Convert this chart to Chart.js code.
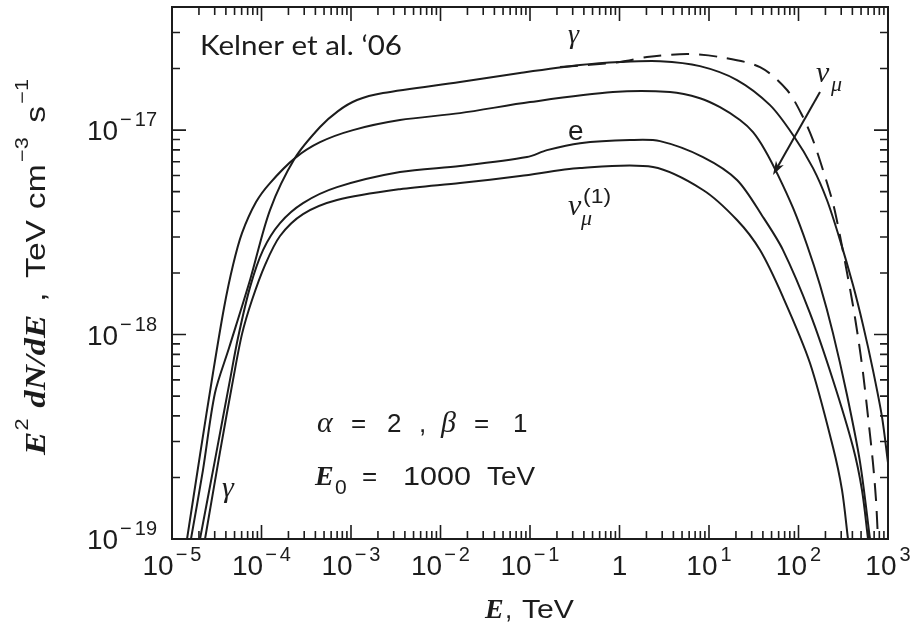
<!DOCTYPE html>
<html>
<head>
<meta charset="utf-8">
<script src="https://cdn.jsdelivr.net/npm/chart.js@4.4.1/dist/chart.umd.min.js"></script>
<style>
  html, body { margin: 0; padding: 0; background: #fff; }
  #wrap { width: 918px; height: 628px; position: relative; }
</style>
</head>
<body>
<div id="wrap"><canvas id="spec"></canvas></div>
<script>
// curves, stored as log10(E / TeV) and log10(E^2 dN/dE)
const gammaLogE = [-4.788, -4.654, -4.520, -4.363, -4.128, -3.905, -3.626, -3.346, -3.145, -2.933, -2.642, -1.782, -1.112, -0.441, 0.006, 0.453, 0.899, 1.313, 1.682, 1.939, 2.162, 2.318, 2.464, 2.609, 2.721, 2.832, 2.933, 3.0];
const gammaLogF = [-19.0, -18.663, -18.286, -18.066, -17.733, -17.391, -17.137, -16.985, -16.907, -16.853, -16.819, -16.765, -16.721, -16.682, -16.667, -16.663, -16.687, -16.755, -16.878, -17.024, -17.186, -17.342, -17.538, -17.758, -17.954, -18.174, -18.403, -18.628];

const nuMuLogE = [-4.832, -4.687, -4.542, -4.419, -4.318, -4.218, -4.061, -3.905, -3.626, -3.346, -2.978, -2.453, -1.782, -1.0, -0.073, 0.564, 0.899, 1.123, 1.346, 1.492, 1.626, 1.771, 1.939, 2.095, 2.240, 2.385, 2.542, 2.687, 2.799];
const nuMuLogF = [-19.0, -18.589, -18.188, -17.870, -17.660, -17.504, -17.352, -17.259, -17.137, -17.059, -17.0, -16.951, -16.917, -16.863, -16.814, -16.814, -16.844, -16.888, -16.951, -17.010, -17.098, -17.220, -17.381, -17.562, -17.758, -17.993, -18.296, -18.623, -19.0];

const elecLogE = [-4.687, -4.520, -4.352, -4.263, -4.128, -3.983, -3.793, -3.536, -3.156, -2.453, -1.782, -1.034, -0.810, -0.441, 0.117, 0.453, 0.933, 1.313, 1.603, 1.827, 2.128, 2.385, 2.609, 2.709, 2.777];
const elecLogF = [-19.0, -18.614, -18.222, -18.017, -17.768, -17.587, -17.455, -17.357, -17.279, -17.205, -17.176, -17.132, -17.098, -17.064, -17.049, -17.054, -17.132, -17.244, -17.425, -17.587, -17.895, -18.222, -18.550, -18.760, -19.0];

const nuMu1LogE = [-4.631, -4.464, -4.318, -4.218, -4.106, -3.961, -3.793, -3.536, -3.156, -2.453, -1.782, -1.112, -0.441, 0.374, 0.933, 1.313, 1.570, 1.827, 2.128, 2.385, 2.486, 2.553];
const nuMu1LogF = [-19.0, -18.575, -18.222, -17.998, -17.831, -17.660, -17.518, -17.411, -17.342, -17.289, -17.259, -17.225, -17.186, -17.181, -17.293, -17.440, -17.587, -17.817, -18.139, -18.550, -18.760, -19.0];

const dashLogE = [-0.665, 0.006, 0.307, 0.754, 1.123, 1.570, 1.872, 2.050, 2.162, 2.274, 2.385, 2.464, 2.598, 2.665, 2.721, 2.777, 2.832, 2.866, 2.888];
const dashLogF = [-16.692, -16.667, -16.643, -16.628, -16.643, -16.692, -16.804, -16.936, -17.049, -17.196, -17.357, -17.518, -17.831, -18.012, -18.188, -18.403, -18.628, -18.809, -19.0];

// axes
const xDecades = [-5, -4, -3, -2, -1, 0, 1, 2, 3];
const yDecades = [-19, -18, -17];
const xMin = 1e-5, xMax = 1e3;
const yMin = 1e-19, yMax = 4e-17;

// label anchors (log10 E, log10 F)
const kelnerAt = [-4.687, -16.633];
const gammaTopAt = [-0.575, -16.575];
const elecAt = [-0.575, -17.049];
const nuMuAt = [2.196, -16.765];
const nuMu1At = [-0.575, -17.416];
const gammaLowAt = [-4.441, -18.795];
const paramsAt = [-3.380, -18.478];
const e0At = [-3.402, -18.737];
const arrowFrom = [2.240, -16.814];
const arrowTo = [1.715, -17.220];

const INK = "#1c1c1c";
const SANS = "'Liberation Sans', Arial, sans-serif";
const SERIF = "'Liberation Serif', serif";

function points(logE, logF) {
  return logE.map((v, i) => ({ x: 10 ** v, y: 10 ** logF[i] }));
}

function curve(logE, logF, dash) {
  return {
    data: points(logE, logF),
    borderColor: INK,
    borderWidth: 2,
    borderDash: dash || [],
    pointRadius: 0,
    fill: false,
    tension: 0.3
  };
}

function put(ctx, text, font, x, y, w) {
  ctx.font = font;
  const nat = ctx.measureText(text).width;
  if (!w) { ctx.fillText(text, x, y); return nat; }
  ctx.save();
  ctx.translate(x, y);
  ctx.scale(w / nat, 1);
  ctx.fillText(text, 0, 0);
  ctx.restore();
  return w;
}

// draws a run of pieces one after the other; returns its width
function run(ctx, parts, x, y, measureOnly) {
  let cx = x;
  parts.forEach(p => {
    ctx.font = p.f;
    cx += p.gap || 0;
    if (!measureOnly) ctx.fillText(p.t, cx, y + (p.dy || 0));
    cx += ctx.measureText(p.t).width;
  });
  return cx - x;
}

function tickLabel(ctx, d, x, y, align) {
  const parts = [];
  if (d === 0) {
    parts.push({ t: "1", f: "28px " + SANS });
  } else {
    parts.push({ t: "10", f: "28px " + SANS });
    if (d < 0) parts.push({ t: "\u2212", f: "20px " + SANS, dy: -14, gap: 2 });
    parts.push({ t: String(Math.abs(d)), f: "20px " + SANS, dy: -14, gap: 3 });
  }
  const total = run(ctx, parts, 0, 0, true);
  run(ctx, parts, align === "center" ? x - total / 2 : x - total, y);
}

const decorations = {
  id: "decorations",
  afterDraw(chart) {
    const { ctx, chartArea: a, scales } = chart;
    const px = lg => scales.x.getPixelForValue(10 ** lg);
    const py = lg => scales.y.getPixelForValue(10 ** lg);
    ctx.save();
    ctx.strokeStyle = INK;
    ctx.fillStyle = INK;
    ctx.setLineDash([]);

    // frame
    ctx.lineWidth = 2;
    ctx.strokeRect(a.left, a.top, a.right - a.left, a.bottom - a.top);

    // inward ticks on all four sides
    ctx.lineWidth = 1.6;
    ctx.beginPath();
    xDecades.forEach((d, i) => {
      const last = i === xDecades.length - 1;
      for (let m = 1; m <= (last ? 1 : 9); m++) {
        const X = scales.x.getPixelForValue(m * 10 ** d);
        const L = m === 1 ? 14 : 8;
        ctx.moveTo(X, a.bottom); ctx.lineTo(X, a.bottom - L);
        ctx.moveTo(X, a.top); ctx.lineTo(X, a.top + L);
      }
    });
    yDecades.forEach(d => {
      for (let m = 1; m <= 9; m++) {
        const v = m * 10 ** d;
        if (v > yMax * 1.001) break;
        const Y = scales.y.getPixelForValue(v);
        const L = m === 1 ? 14 : 8;
        ctx.moveTo(a.left, Y); ctx.lineTo(a.left + L, Y);
        ctx.moveTo(a.right, Y); ctx.lineTo(a.right - L, Y);
      }
    });
    ctx.stroke();

    // tick labels
    ctx.textBaseline = "alphabetic";
    xDecades.forEach(d => tickLabel(ctx, d, px(d), a.bottom + 36, "center"));
    yDecades.forEach(d => tickLabel(ctx, d, a.left - 15, py(d) + 10, "right"));

    // axis titles
    const xt = (a.left + a.right) / 2 - 45;
    put(ctx, "E", "italic bold 28px " + SERIF, xt, a.bottom + 79);
    put(ctx, ",", "26px " + SANS, xt + 20, a.bottom + 79);
    put(ctx, "TeV", "26px " + SANS, xt + 37, a.bottom + 79, 52);

    const yParts = [
      { t: "E", f: "italic bold 29px " + SERIF },
      { t: "2", f: "18px " + SANS, dy: -17, gap: 1 },
      { t: "dN/dE", f: "italic bold 29px " + SERIF, gap: 9 },
      { t: ",", f: "28px " + SANS, gap: 11 },
      { t: "TeV", f: "28px " + SANS, gap: 12 },
      { t: "cm", f: "28px " + SANS, gap: 9 },
      { t: "\u22123", f: "18px " + SANS, dy: -17, gap: 2 },
      { t: "s", f: "28px " + SANS, gap: 12 },
      { t: "\u22121", f: "18px " + SANS, dy: -17, gap: 2 }
    ];
    const yLen = run(ctx, yParts, 0, 0, true);
    ctx.save();
    ctx.translate(a.left - 127, a.bottom - 84);
    ctx.rotate(-Math.PI / 2);
    ctx.scale(376 / yLen, 1);
    run(ctx, yParts, 0, 0);
    ctx.restore();

    // annotations
    put(ctx, "Kelner et al. \u201806", "27px Lato, 'Open Sans', sans-serif", px(kelnerAt[0]), py(kelnerAt[1]), 202);
    put(ctx, "\u03b3", "italic 28px " + SERIF, px(gammaTopAt[0]), py(gammaTopAt[1]));
    put(ctx, "e", "28px " + SANS, px(elecAt[0]), py(elecAt[1]));

    let X = px(nuMuAt[0]), Y = py(nuMuAt[1]);
    put(ctx, "\u03bd", "italic 30px " + SERIF, X, Y);
    put(ctx, "\u03bc", "italic 22px " + SERIF, X + 15, Y + 9);

    X = px(nuMu1At[0]); Y = py(nuMu1At[1]);
    put(ctx, "\u03bd", "italic 30px " + SERIF, X, Y);
    put(ctx, "\u03bc", "italic 22px " + SERIF, X + 13, Y + 10);
    put(ctx, "(1)", "20px " + SANS, X + 15, Y - 12, 28);

    put(ctx, "\u03b3", "italic 30px " + SERIF, px(gammaLowAt[0]), py(gammaLowAt[1]));

    X = px(paramsAt[0]); Y = py(paramsAt[1]);
    put(ctx, "\u03b1", "italic 30px " + SERIF, X, Y);
    put(ctx, "=", "26px " + SANS, X + 34, Y);
    put(ctx, "2", "26px " + SANS, X + 70, Y);
    put(ctx, ",", "26px " + SANS, X + 102, Y);
    put(ctx, "\u03b2", "italic 30px " + SERIF, X + 124, Y);
    put(ctx, "=", "26px " + SANS, X + 157, Y);
    put(ctx, "1", "26px " + SANS, X + 196, Y);

    X = px(e0At[0]); Y = py(e0At[1]);
    put(ctx, "E", "italic bold 28px " + SERIF, X, Y);
    put(ctx, "0", "21px " + SANS, X + 20, Y + 9);
    put(ctx, "=", "26px " + SANS, X + 47, Y);
    put(ctx, "1000", "26px " + SANS, X + 88, Y, 68);
    put(ctx, "TeV", "26px " + SANS, X + 172, Y, 48);

    // arrow to the nu_mu curve
    const x0 = px(arrowFrom[0]), y0 = py(arrowFrom[1]);
    const x1 = px(arrowTo[0]), y1 = py(arrowTo[1]);
    const ang = Math.atan2(y1 - y0, x1 - x0);
    const c = Math.cos(ang), s = Math.sin(ang);
    ctx.lineWidth = 2;
    ctx.beginPath();
    ctx.moveTo(x0, y0);
    ctx.lineTo(x1 - 6 * c, y1 - 6 * s);
    ctx.stroke();
    ctx.beginPath();
    ctx.moveTo(x1, y1);
    ctx.lineTo(x1 - 14 * c + 4.5 * s, y1 - 14 * s - 4.5 * c);
    ctx.lineTo(x1 - 10 * c, y1 - 10 * s);
    ctx.lineTo(x1 - 14 * c - 4.5 * s, y1 - 14 * s + 4.5 * c);
    ctx.closePath();
    ctx.fill();

    ctx.restore();
  }
};

new Chart(document.getElementById("spec"), {
  type: "line",
  data: {
    datasets: [
      curve(gammaLogE, gammaLogF),
      curve(nuMuLogE, nuMuLogF),
      curve(elecLogE, elecLogF),
      curve(nuMu1LogE, nuMu1LogF),
      curve(dashLogE, dashLogF, [18, 10])
    ]
  },
  options: {
    responsive: true,
    maintainAspectRatio: false,
    animation: false,
    layout: { padding: { left: 172, right: 30, top: 7, bottom: 89 } },
    plugins: { legend: { display: false }, tooltip: { enabled: false } },
    scales: {
      x: { type: "logarithmic", min: xMin, max: xMax, display: false },
      y: { type: "logarithmic", min: yMin, max: yMax, display: false }
    }
  },
  plugins: [decorations]
});
</script>
</body>
</html>
